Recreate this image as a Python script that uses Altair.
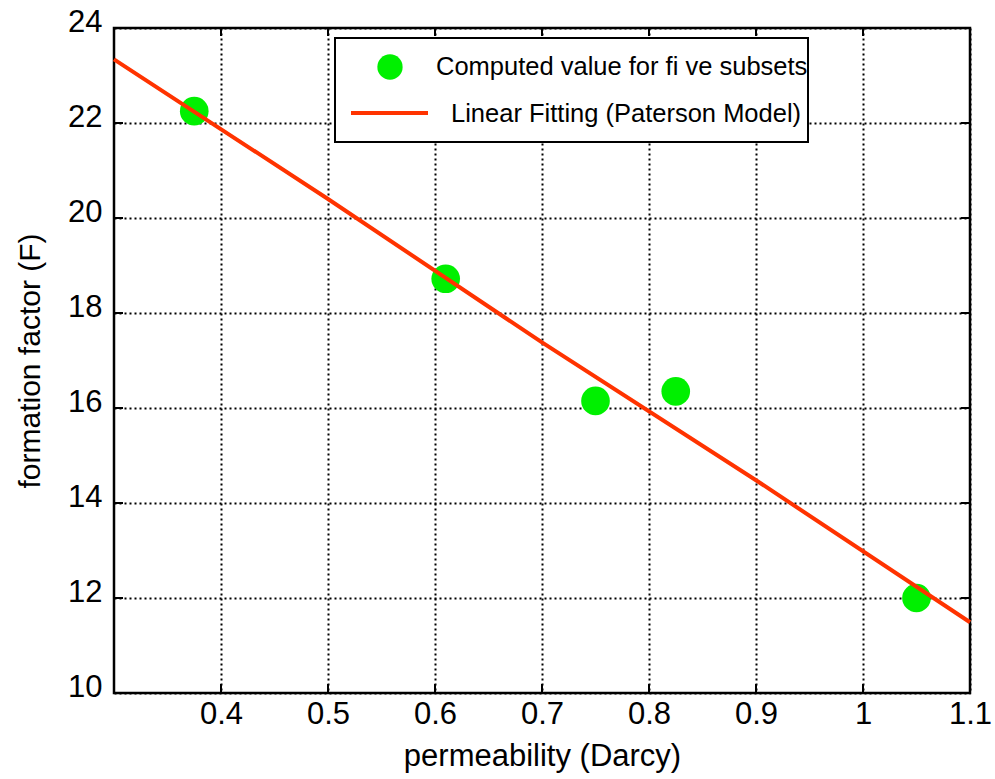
import altair as alt
import pandas as pd

# ---- data ----
perm = [0.375, 0.61, 0.75, 0.825, 1.05]
ffac = [22.25, 18.72, 16.15, 16.35, 12.0]
fit_x = [0.3, 0.5, 0.7, 0.9, 1.1]
fit_y = [23.34, 20.40, 17.38, 14.48, 11.49]
x_ticks = [0.4, 0.5, 0.6, 0.7, 0.8, 0.9, 1.0, 1.1]
y_ticks = [10, 12, 14, 16, 18, 20, 22, 24]
legend_labels = ["Computed value for fi ve subsets", "Linear Fitting (Paterson Model)"]
x_title = "permeability (Darcy)"
y_title = "formation factor (F)"

GREEN = "#00f000"
RED = "#ff3300"
FONT = "Liberation Sans"
W, H = 856, 665

pts = pd.DataFrame({"perm": perm, "F": ffac})
fit = pd.DataFrame({"perm": fit_x, "F": fit_y})
xt = pd.DataFrame({"v": x_ticks})
yt = pd.DataFrame({"v": y_ticks})
one = alt.Data(values=[{"k": 1}])

xs = alt.Scale(domain=[0.3, 1.1], nice=False, zero=False)
ys = alt.Scale(domain=[10, 24], nice=False, zero=False)

x_axis = alt.Axis(
    values=x_ticks, labelExpr="'' + datum.value", grid=True, gridColor="black",
    gridDash=[2, 3], gridWidth=2, gridOpacity=1, ticks=False, domain=False,
    labelFont=FONT, labelFontSize=31, labelColor="black", labelPadding=6,
    labelFlush=False, labelOverlap=False,
    title=x_title, titleFont=FONT, titleFontSize=31, titleFontWeight="normal",
    titleColor="black", titleX=W / 2, titleY=72, titleBaseline="alphabetic",
    titleAlign="center",
)
y_axis = alt.Axis(
    values=y_ticks, grid=True, gridColor="black", gridDash=[2, 3], gridWidth=2,
    gridOpacity=1, ticks=False, domain=False,
    labelFont=FONT, labelFontSize=31, labelColor="black", labelPadding=12,
    labelOffset=-6, labelFlush=False, labelOverlap=False,
    title=y_title, titleFont=FONT, titleFontSize=30, titleFontWeight="normal",
    titleColor="black", titleAngle=-90, titleX=-75, titleY=H / 2,
    titleBaseline="alphabetic", titleAlign="center",
)

points = alt.Chart(pts).mark_circle(size=820, color=GREEN, opacity=1).encode(
    x=alt.X("perm:Q", scale=xs, axis=x_axis),
    y=alt.Y("F:Q", scale=ys, axis=y_axis),
)
line = alt.Chart(fit).mark_line(color=RED, strokeWidth=4).encode(
    x=alt.X("perm:Q", scale=xs), y=alt.Y("F:Q", scale=ys)
)

# inward ticks on all four sides
tick_bottom = alt.Chart(xt).mark_rule(color="black", strokeWidth=2).encode(
    x=alt.X("v:Q", scale=xs), y=alt.value(H), y2=alt.value(H - 9))
tick_top = alt.Chart(xt).mark_rule(color="black", strokeWidth=2).encode(
    x=alt.X("v:Q", scale=xs), y=alt.value(0), y2=alt.value(8))
tick_left = alt.Chart(yt).mark_rule(color="black", strokeWidth=2).encode(
    y=alt.Y("v:Q", scale=ys), x=alt.value(0), x2=alt.value(9))
tick_right = alt.Chart(yt).mark_rule(color="black", strokeWidth=2).encode(
    y=alt.Y("v:Q", scale=ys), x=alt.value(W), x2=alt.value(W - 9))

# legend box
leg_box = alt.Chart(one).mark_rect(fill="white", stroke="black", strokeWidth=2).encode(
    x=alt.value(221), x2=alt.value(694), y=alt.value(10), y2=alt.value(114))
leg_dot = alt.Chart(one).mark_circle(size=640, color=GREEN, opacity=1).encode(
    x=alt.value(276), y=alt.value(39))
leg_line = alt.Chart(one).mark_rule(color=RED, strokeWidth=4).encode(
    x=alt.value(237), x2=alt.value(314), y=alt.value(85))
leg_t1 = alt.Chart(one).mark_text(
    font=FONT, fontSize=25.5, align="left", baseline="alphabetic", color="black"
).encode(x=alt.value(322), y=alt.value(47), text=alt.value(legend_labels[0]))
leg_t2 = alt.Chart(one).mark_text(
    font=FONT, fontSize=25.5, align="left", baseline="alphabetic", color="black"
).encode(x=alt.value(337), y=alt.value(94), text=alt.value(legend_labels[1]))

chart = alt.layer(
    points, line, tick_bottom, tick_top, tick_left, tick_right,
    leg_box, leg_dot, leg_line, leg_t1, leg_t2,
).properties(
    width=W, height=H,
    padding={"left": 114, "top": 28, "right": 25, "bottom": 86},
    autosize=alt.AutoSizeParams(type="none"),
    background="white",
).configure_view(stroke="black", strokeWidth=2.5)

chart.save("out.html", embed_options={"renderer": "svg", "actions": False})
